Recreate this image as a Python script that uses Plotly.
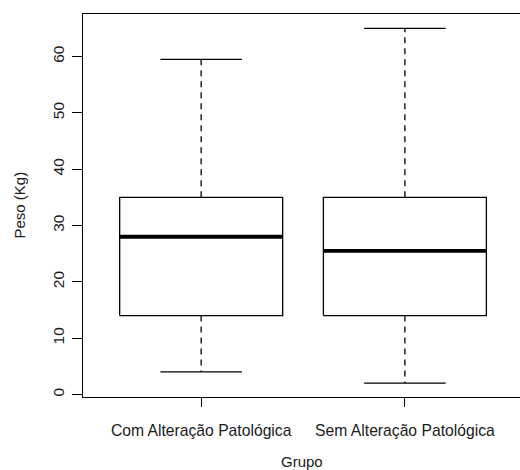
import plotly.graph_objects as go

categories = ["Com Alteração Patológica", "Sem Alteração Patológica"]
lower_whisker = [4, 2]
q1 = [14, 14]
median = [28, 25.5]
q3 = [35, 35]
upper_whisker = [59.5, 65]
y_ticks = [0, 10, 20, 30, 40, 50, 60]

BOX_HALF = 0.4
CAP_HALF = 0.2
LW = 1.3

fig = go.Figure()
for i, name in enumerate(categories):
    p = i + 1
    # whiskers (dashed)
    fig.add_trace(go.Scatter(x=[p, p, None, p, p], y=[q3[i], upper_whisker[i], None, q1[i], lower_whisker[i]],
                             mode="lines", line=dict(color="black", width=LW, dash="6px,5px"),
                             hoverinfo="skip", showlegend=False))
    # caps
    fig.add_trace(go.Scatter(x=[p - CAP_HALF, p + CAP_HALF, None, p - CAP_HALF, p + CAP_HALF],
                             y=[upper_whisker[i], upper_whisker[i], None, lower_whisker[i], lower_whisker[i]],
                             mode="lines", line=dict(color="black", width=LW),
                             hoverinfo="skip", showlegend=False))
    # box
    fig.add_trace(go.Scatter(x=[p - BOX_HALF, p + BOX_HALF, p + BOX_HALF, p - BOX_HALF, p - BOX_HALF],
                             y=[q1[i], q1[i], q3[i], q3[i], q1[i]],
                             mode="lines", line=dict(color="black", width=LW),
                             fill="toself", fillcolor="white",
                             name=name, showlegend=False))
    # median
    fig.add_trace(go.Scatter(x=[p - BOX_HALF, p + BOX_HALF], y=[median[i], median[i]],
                             mode="lines", line=dict(color="black", width=3.8),
                             hoverinfo="skip", showlegend=False))

FONT = "Liberation Sans, Arial, sans-serif"
fig.update_layout(
    width=520, height=470,
    margin=dict(l=83, r=0, t=14, b=73),
    paper_bgcolor="white", plot_bgcolor="white",
    font=dict(family=FONT, size=15, color="#1a1a1a"),
    xaxis=dict(range=[0.42, 2.565], tickvals=[1, 2], ticktext=categories,
               showgrid=False, zeroline=False, showline=True, mirror=True,
               linecolor="black", linewidth=LW, ticks="outside", ticklen=9,
               tickwidth=LW, tickcolor="black", ticklabelstandoff=10,
               tickfont=dict(size=15.7)),
    yaxis=dict(range=[-0.45, 67.55], tickvals=y_ticks, tickangle=-90,
               showgrid=False, zeroline=False, showline=True, mirror=False,
               linecolor="black", linewidth=LW, ticks="outside", ticklen=10,
               tickwidth=LW, tickcolor="black", ticklabelstandoff=2,
               tickfont=dict(size=15.5)),
    annotations=[
        dict(text="Grupo", xref="paper", yref="paper", x=0.5, y=0, yanchor="middle",
             yshift=-64, showarrow=False, font=dict(size=15)),
        dict(text="Peso (Kg)", xref="paper", yref="paper", x=0, y=0.5, xanchor="center",
             xshift=-64, textangle=-90, showarrow=False, font=dict(size=15)),
    ],
)

fig.write_html("out.html", config={"displayModeBar": False},
               post_script="document.body.style.margin='0';document.body.style.overflow='hidden';")
